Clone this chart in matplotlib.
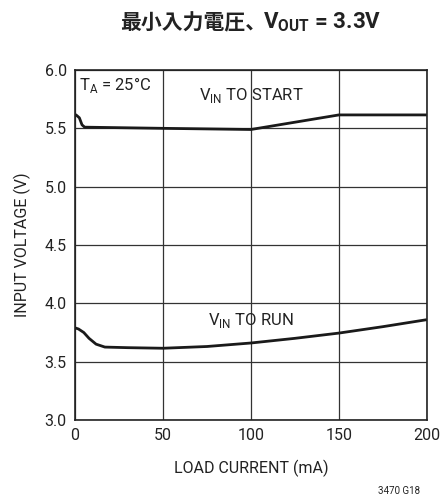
import matplotlib.pyplot as plt
import numpy as np

plt.rcParams['font.family'] = ['Roboto', 'DejaVu Sans']

# V_IN TO START
start_i = [0, 1, 2.5, 4, 5.5, 50, 100, 150, 200]
start_v = [5.62, 5.61, 5.59, 5.53, 5.51, 5.50, 5.49, 5.615, 5.615]

# V_IN TO RUN
run_i = [0, 2, 5, 8, 12, 17, 30, 50, 75, 100, 125, 150, 175, 200]
run_v = [3.79, 3.78, 3.75, 3.70, 3.65, 3.625, 3.62, 3.615, 3.63, 3.66, 3.70, 3.745, 3.80, 3.86]

fig = plt.figure(figsize=(4.41, 5.0), dpi=100)
ax = fig.add_axes([0.170, 0.16, 0.798, 0.70])

ax.plot(start_i, start_v, color='#1a1a1a', lw=2.0, solid_capstyle='butt')
ax.plot(run_i, run_v, color='#1a1a1a', lw=2.0, solid_capstyle='butt')

ax.set_xlim(0, 200)
ax.set_ylim(3.0, 6.0)
ax.set_xticks(np.arange(0, 201, 50))
ax.set_yticks(np.arange(3.0, 6.01, 0.5))
ax.set_yticklabels(['%.1f' % v for v in np.arange(3.0, 6.01, 0.5)])
ax.tick_params(length=0, labelsize=11.5, pad=6, colors='#222222')
ax.grid(True, color='#333333', lw=0.9)
for s in ax.spines.values():
    s.set_color('#222222')
    s.set_linewidth(1.2)

ax.set_xlabel('LOAD CURRENT (mA)', fontsize=11.5, color='#222222', labelpad=12)
ax.set_ylabel('INPUT VOLTAGE (V)', fontsize=11.5, color='#222222', labelpad=10)

ax.text(2.5, 5.87, r'T$_\mathregular{A}$ = 25°C', fontsize=12, va='center', color='#222222')
ax.text(100, 5.78, r'V$_\mathregular{IN}$ TO START', fontsize=12, ha='center', va='center', color='#222222')
ax.text(100, 3.85, r'V$_\mathregular{IN}$ TO RUN', fontsize=12, ha='center', va='center', color='#222222')

fig.text(0.272, 0.955, '最小入力電圧、', fontsize=15, fontweight='bold',
         family=['Noto Sans CJK JP'], ha='left', va='center', color='#222222')
fig.text(0.597, 0.955, r'V$_\mathregular{OUT}$ = 3.3V', fontsize=16, fontweight='bold',
         ha='left', va='center', color='#222222')
fig.text(0.953, 0.017, '3470 G18', fontsize=7, ha='right', va='center', color='#222222')

fig.savefig('out.png', dpi=100)
